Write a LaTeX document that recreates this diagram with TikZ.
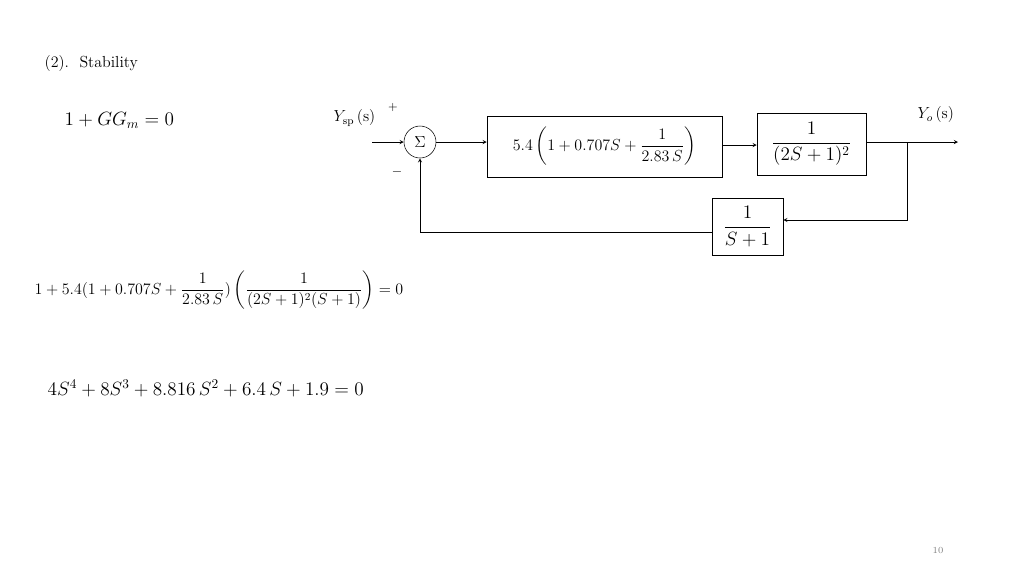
\documentclass[tikz,border=0pt]{standalone}
\usepackage{amsmath}
\usetikzlibrary{calc,arrows}
\newcommand{\sigconn}[2]{%
  \draw[->] (#1) -- (#2)}
\begin{document}
\begin{tikzpicture}[x=0.75pt, y=-0.75pt, >=stealth,
    blk/.style={draw, inner sep=0pt},
    sumnode/.style={draw, circle, minimum size=24pt, inner sep=0pt, font=\large},
    eqn/.style={font=\Large, anchor=west}]
  \useasboundingbox (0,0) rectangle (1024,576);
  \node[anchor=west, font=\large] (title) at (40,64) {(2).\ \ Stability};
  \node[eqn] (cond) at (60,120) {$1+GG_m=0$};

  % loop
  \node[sumnode] (sum) at (420,142) {$\Sigma$};
  \coordinate (in) at (372,142);
  \node[anchor=east, font=\large] (ysp) at (380,118) {$Y_{\mathrm{sp}}\,$(s)};
  \node (plus) at (393,107) {\small $+$};
  \node (minus) at (397,172) {$-$};
  \node[blk, minimum width=235*0.75pt, minimum height=61*0.75pt] (ctrl) at (604.5,146.5) {};
  \node[font=\large] (ctrltext) at (ctrl.center) {$5.4\left(1+0.707S+\dfrac{1}{2.83\,S}\right)$};
  \node[blk, minimum width=109*0.75pt, minimum height=62*0.75pt] (plant) at (811.5,144) {\Large $\dfrac{1}{(2S+1)^2}$};
  \node[blk, minimum width=71*0.75pt, minimum height=57*0.75pt] (meas) at (747.5,226.5) {\Large $\dfrac{1}{S+1}$};
  \node[anchor=west, font=\large] (yo) at (913,115) {$Y_o\,$(s)};
  \coordinate (out) at (958,142);
  \coordinate (branch) at (907,142);

  \sigconn{in}{sum};
  \sigconn{sum}{sum -| ctrl.west};
  \draw[->] (ctrl.east |- 0,145) -- (plant.west |- 0,145);
  \draw[->] (plant.east |- branch) -- (out);
  \draw[->] (branch) |- (meas.east |- 0,220);
  \draw[->] (meas.west |- 0,232) -| (sum.south);

  % equations
  \node[anchor=west, font=\large] (eqa) at (30,290)
    {$1+5.4(1+0.707S+\dfrac{1}{2.83\,S})\left(\dfrac{1}{(2S+1)^2(S+1)}\right)=0$};
  \node[eqn] (eqb) at (43,388) {$4S^4+8S^3+8.816\,S^2+6.4\,S+1.9=0$};
  \node[text=gray, font=\scriptsize] (page) at (938,550) {10};
\end{tikzpicture}
\end{document}
